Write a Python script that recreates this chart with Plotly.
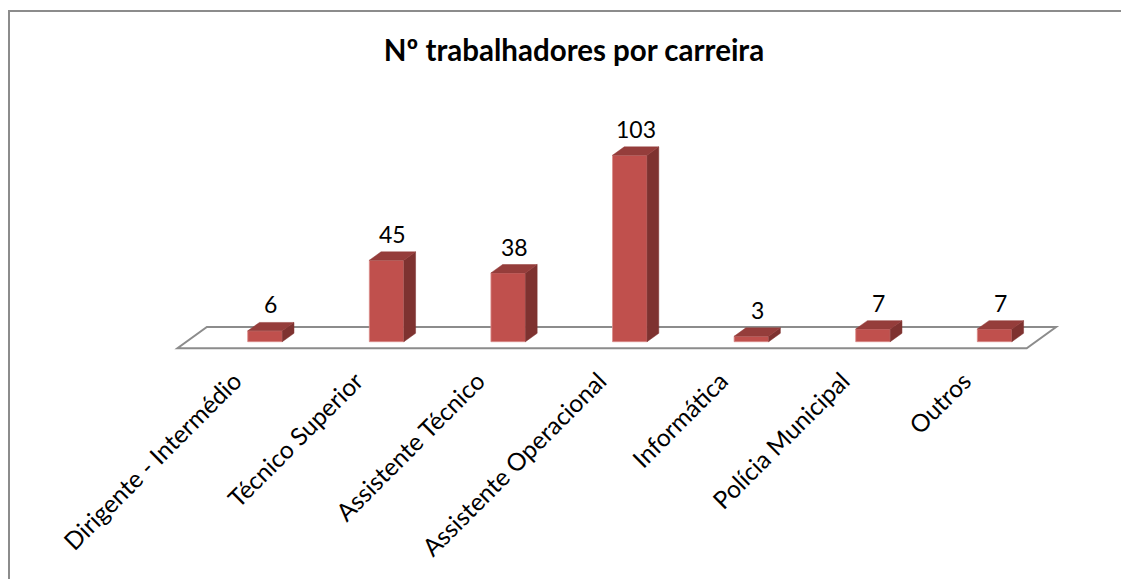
import plotly.graph_objects as go

# dados
categorias = ["Dirigente - Intermédio", "Técnico Superior", "Assistente Técnico",
              "Assistente Operacional", "Informática", "Polícia Municipal", "Outros"]
trabalhadores = [6, 45, 38, 103, 3, 7, 7]

W, H = 1129, 579
OFF = 8          # margem do body da página
ML, MR, MT, MB = 142, 57, 92, 226
PX_CAT = 121.6   # pixels por categoria
PX_VAL = 1.81    # pixels por trabalhador
plot_w = W - ML - MR
plot_h = H - MT - MB

x_min = -(265 - OFF - ML) / PX_CAT
y_min = -(MT + plot_h - (341.7 - OFF)) / PX_VAL

# efeito 3D
larg = 0.284
dx = 11.7 / PX_CAT
dy = 8.4 / PX_VAL
FRENTE = "#C0504D"
LADO = "#7E3230"
TOPO = "#953D3B"
FONTE = "Lato"

n = len(categorias)
lado_x, lado_y, topo_x, topo_y = [], [], [], []
for i, v in enumerate(trabalhadores):
    xr = i + larg / 2
    xl = i - larg / 2
    lado_x += [xr, xr + dx, xr + dx, xr, xr, None]
    lado_y += [0, dy, v + dy, v, 0, None]
    topo_x += [xl, xl + dx, xr + dx, xr, xl, None]
    topo_y += [v, v + dy, v + dy, v, v, None]

fig = go.Figure()
fig.add_trace(go.Scatter(x=lado_x, y=lado_y, fill="toself", fillcolor=LADO,
                         mode="lines", line=dict(width=0.5, color=LADO), hoverinfo="skip"))
fig.add_trace(go.Scatter(x=topo_x, y=topo_y, fill="toself", fillcolor=TOPO,
                         mode="lines", line=dict(width=0.5, color=TOPO), hoverinfo="skip"))
fig.add_trace(go.Bar(x=list(range(n)), y=trabalhadores, width=larg,
                     marker=dict(color=FRENTE, line=dict(color="#D98C8A", width=0.8)),
                     hovertext=categorias))

# chão
chao_fy, chao_by = -3.65, 8.12
chao_fx0, chao_fx1 = -0.72, n - 0.736
chao_d = 29.4 / PX_CAT
path = (f"M {chao_fx0},{chao_fy} L {chao_fx1},{chao_fy} "
        f"L {chao_fx1 + chao_d},{chao_by} L {chao_fx0 + chao_d},{chao_by} Z")
shapes = [dict(type="path", path=path, xref="x", yref="y", layer="below",
               line=dict(color="#8C8C8C", width=2), fillcolor="white")]

# moldura do gráfico
shapes.append(dict(type="rect", xref="paper", yref="paper",
                   x0=(1 - ML) / plot_w, x1=(W + 10 - ML) / plot_w,
                   y0=1 - (H + 10 - MT) / plot_h, y1=1 - (11 - OFF - MT) / plot_h,
                   line=dict(color="#8C8C8C", width=2), layer="below"))

annotations = []
for i, v in enumerate(trabalhadores):
    annotations.append(dict(x=i + dx / 2, y=v + dy, text=str(v), showarrow=False,
                            xanchor="center", yanchor="bottom", yshift=2,
                            font=dict(family=FONTE, size=23, color="black")))

fig.update_layout(
    width=W, height=H,
    margin=dict(l=ML, r=MR, t=MT, b=MB, autoexpand=False),
    paper_bgcolor="white", plot_bgcolor="white",
    showlegend=False,
    title=dict(text="<b>Nº trabalhadores por carreira</b>", x=(574 - OFF) / W,
               xanchor="center", y=1 - (51 - OFF) / H, yanchor="middle",
               font=dict(family=FONTE, size=29.5, color="black")),
    shapes=shapes,
    annotations=annotations,
    xaxis=dict(range=[x_min, x_min + plot_w / PX_CAT], tickmode="array",
               tickvals=[i - 0.25 for i in range(n)], ticktext=categorias, tickangle=-45,
               tickfont=dict(family=FONTE, size=24.5, color="black"),
               showgrid=False, zeroline=False, showline=False, ticks="",
               automargin=False),
    yaxis=dict(range=[y_min, y_min + plot_h / PX_VAL], visible=False, automargin=False),
)

fig.write_html("out.html")
